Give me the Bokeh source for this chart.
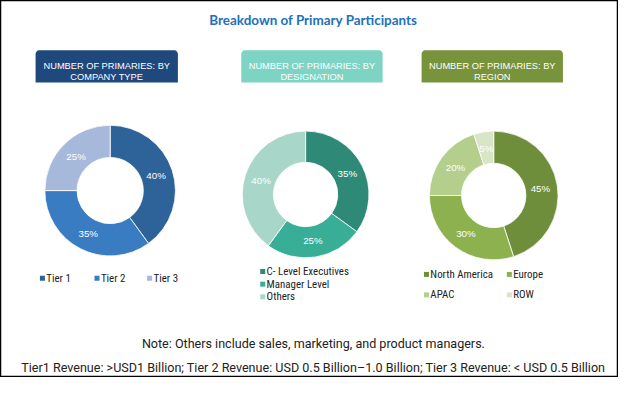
import numpy as np
from bokeh.plotting import figure
from bokeh.models import Range1d
from bokeh.core.properties import value
from bokeh.embed import file_html
from bokeh.resources import INLINE

# ---------------- data ----------------
title = "Breakdown of Primary Participants"
header_line1 = ["NUMBER OF PRIMARIES: BY", "NUMBER OF PRIMARIES: BY", "NUMBER OF PRIMARIES: BY"]
header_line2 = ["COMPANY TYPE", "DESIGNATION", "REGION"]

company_labels = ["Tier 1", "Tier 2", "Tier 3"]
company_values = [40, 35, 25]

designation_labels = ["C- Level Executives", "Manager Level", "Others"]
designation_values = [35, 25, 40]

region_labels = ["North America", "Europe", "APAC", "ROW"]
region_values = [45, 30, 20, 5]

note_lines = [
    "Note: Others include sales, marketing, and product managers.",
    "Tier1 Revenue: >USD1 Billion; Tier 2 Revenue: USD 0.5 Billion\u20131.0 Billion; Tier 3 Revenue: < USD 0.5 Billion",
]

# ---------------- styles / layout ----------------
company_colors = ["#2E6399", "#3A7CC1", "#A7B9DA"]
designation_colors = ["#2E8A76", "#39AE96", "#A8D7C9"]
region_colors = ["#6F8E3B", "#8DB14E", "#B4CE8C", "#D8E5C6"]
header_colors = ["#1F497D", "#7ED4C4", "#77933C"]
title_color = "#2270BA"
text_color = "#222222"
cond_font = "Roboto Condensed"
note_font = "Roboto"

REF_W, REF_H = 634, 393
W, H = 618, 377
S = W / REF_W                       # uniform scale from reference pixels to screen
view_h = H / S

def fs(px):
    return f"{px * S:.2f}px"

pies = [
    dict(cx=112.5, cy=195, R=67, r=34, values=company_values, colors=company_colors),
    dict(cx=313, cy=199, R=65, r=33, values=designation_values, colors=designation_colors),
    dict(cx=506, cy=200, R=66, r=33, values=region_values, colors=region_colors),
]
header_boxes = [(36, 182), (247, 392), (432, 577)]
header_top, header_bottom = 51, 84
header_y = [67, 78]

legend_layouts = [
    (company_labels, company_colors, [47, 103, 157], [285, 285, 285]),
    (designation_labels, designation_colors, [273, 273, 273], [278, 291, 304]),
    (region_labels, region_colors, [441, 526, 441, 526], [281, 281, 302, 302]),
]

def Y(v):
    return list(-np.asarray(v, dtype=float))

p = figure(width=W, height=H, x_range=Range1d(0, REF_W), y_range=Range1d(-view_h, 0),
           output_backend="svg", toolbar_location=None, min_border=0)
p.axis.visible = False
p.grid.visible = False
p.outline_line_color = "#000000"
p.outline_line_width = 1.5
p.background_fill_color = "white"
p.border_fill_color = "white"

# title
p.text(x=[321], y=Y([20]), text=[title], text_font=value("Lato"), text_font_style="bold",
       text_font_size=fs(13.8), text_color=title_color, text_align="center", text_baseline="middle")

# header boxes with rounded top corners
rad = 4
for (l, rgt), col, t1, t2 in zip(header_boxes, header_colors, header_line1, header_line2):
    th = np.linspace(0, np.pi / 2, 8)
    xs = [l, l] + list(l + rad - rad * np.cos(th)) + list(rgt - rad + rad * np.sin(th)) + [rgt]
    ys = [header_bottom, header_top + rad] + list(header_top + rad - rad * np.sin(th)) + \
         list(header_top + rad - rad * np.cos(th)) + [header_bottom]
    p.patch(x=xs, y=Y(ys), fill_color=col, line_color=None)
    cx = (l + rgt) / 2
    p.text(x=[cx, cx], y=Y(header_y), text=[t1, t2], text_font=value("Liberation Sans"),
           text_font_size=fs(9.5), text_color="white", text_align="center", text_baseline="middle")

# donuts
for pie in pies:
    vals = np.asarray(pie["values"], dtype=float)
    frac = vals / vals.sum()
    cum = np.concatenate([[0], np.cumsum(frac)])
    start = np.pi / 2 - 2 * np.pi * cum[:-1]
    end = np.pi / 2 - 2 * np.pi * cum[1:]
    n = len(vals)
    p.annular_wedge(x=[pie["cx"]] * n, y=Y([pie["cy"]] * n), inner_radius=pie["r"],
                    outer_radius=pie["R"], start_angle=list(start), end_angle=list(end),
                    direction="clock", fill_color=pie["colors"], line_color="white", line_width=0.8)
    mid = (start + end) / 2
    rho = (pie["R"] + pie["r"]) / 2 - 1
    lx = pie["cx"] + rho * np.cos(mid)
    ly = -pie["cy"] + rho * np.sin(mid)
    p.text(x=list(lx), y=list(ly), text=[f"{int(v)}%" for v in vals], text_font=value("Liberation Sans"),
           text_font_size=fs(10), text_color="white", text_align="center", text_baseline="middle")

# legends
for labels, colors, xs, ys in legend_layouts:
    xs = np.asarray(xs, dtype=float)
    p.scatter(x=list(xs - 4), y=Y(ys), marker="square", size=5, fill_color=colors, line_color=None)
    p.text(x=list(xs), y=Y(ys), text=labels, text_font=value(cond_font),
           text_font_size=fs(11.2), text_color=text_color, text_align="left", text_baseline="middle")

# notes
p.text(x=[321, 321], y=Y([352, 377]), text=note_lines, text_font=value(note_font),
       text_font_size=fs(12.9), text_color=text_color, text_align="center", text_baseline="middle")

open("out.html", "w").write(file_html(p, INLINE))
